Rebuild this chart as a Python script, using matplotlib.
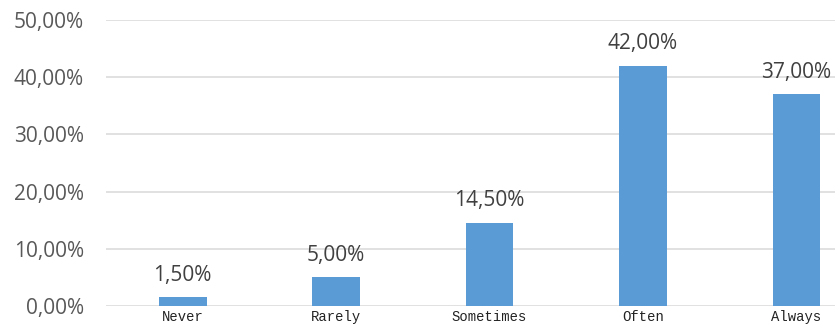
import matplotlib.pyplot as plt

categories = ['Never', 'Rarely', 'Sometimes', 'Often', 'Always']
shares = [1.5, 5.0, 14.5, 42.0, 37.0]
yticks = [0, 10, 20, 30, 40, 50]


def pct(v):
    return '{:.2f}%'.format(v).replace('.', ',')


fig = plt.figure(figsize=(8.35, 3.31), dpi=100)
ax = fig.add_axes([0.127, 0.0755, 0.9186, 0.864])

x = range(len(categories))
bars = ax.bar(x, shares, width=0.31, color='#5b9bd5', zorder=3)

ax.set_xlim(-0.5, len(categories) - 0.5)
ax.set_ylim(0, 50)
ax.set_yticks(yticks)
ax.set_yticklabels([pct(v) for v in yticks], family='Open Sans',
                   fontsize=15, color='#595959')
ax.set_xticks(list(x))
ax.set_xticklabels(categories, family='Liberation Mono', fontsize=10,
                   color='#222222')
ax.tick_params(length=0)
ax.tick_params(axis='y', pad=16)
ax.tick_params(axis='x', pad=3)

ax.grid(axis='y', color='#dcdcdc', linewidth=1.2, zorder=0)
for s in ax.spines.values():
    s.set_visible(False)

# value labels above each bar
for b, v in zip(bars, shares):
    ax.annotate(pct(v), (b.get_x() + b.get_width() / 2, v),
                xytext=(0, 16), textcoords='offset points',
                ha='center', va='center', family='Open Sans',
                fontsize=15, color='#404040')

fig.savefig('out.png', dpi=100)
